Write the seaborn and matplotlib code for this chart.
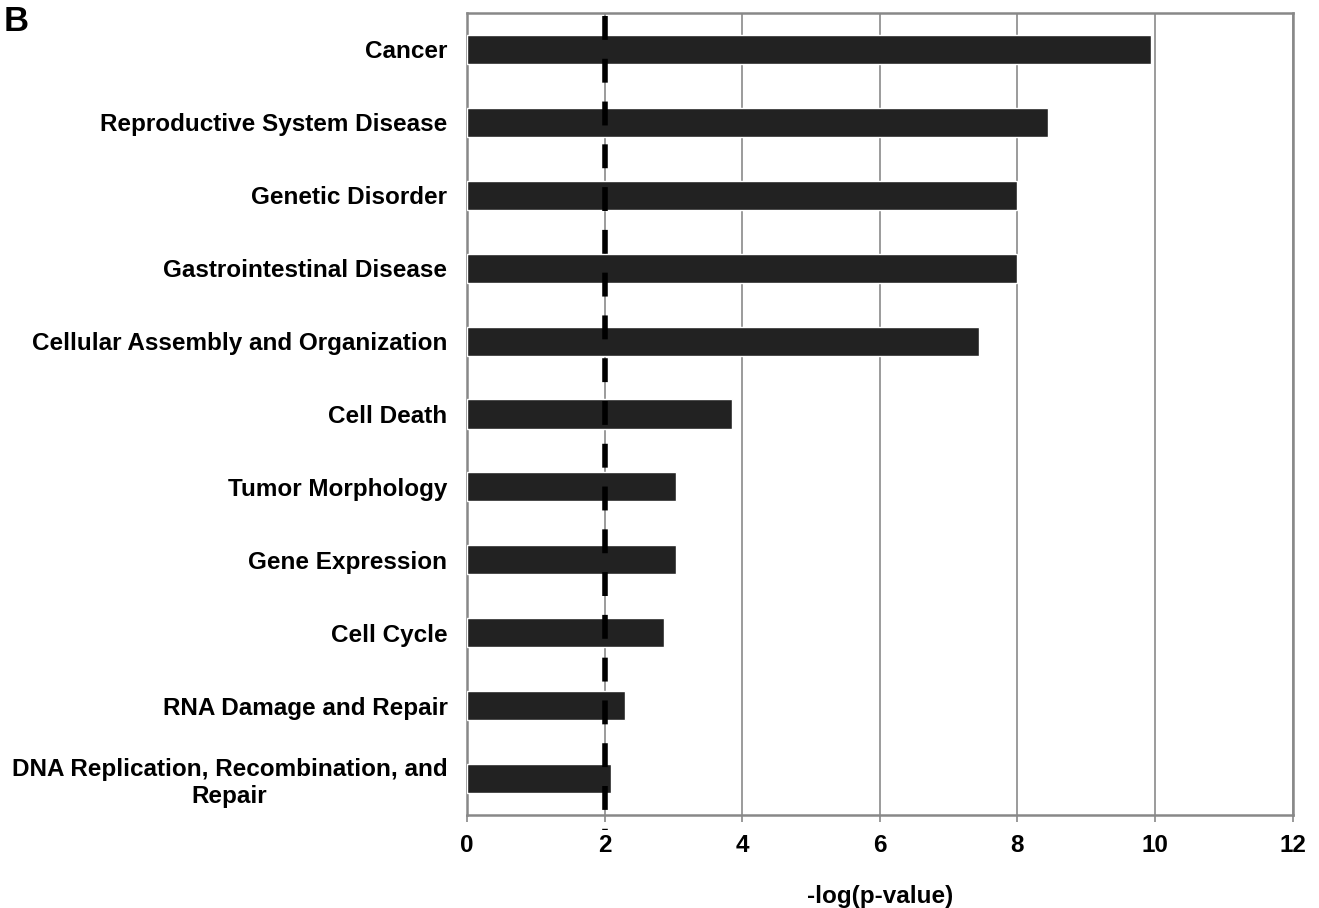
import matplotlib
matplotlib.use("Agg")
import matplotlib.pyplot as plt
import seaborn as sns
import pandas as pd

categories = [
    "Cancer",
    "Reproductive System Disease",
    "Genetic Disorder",
    "Gastrointestinal Disease",
    "Cellular Assembly and Organization",
    "Cell Death",
    "Tumor Morphology",
    "Gene Expression",
    "Cell Cycle",
    "RNA Damage and Repair",
    "DNA Replication, Recombination, and\nRepair",
]
values = [9.94, 8.44, 8.0, 8.0, 7.44, 3.85, 3.04, 3.04, 2.86, 2.30, 2.09]
threshold = 2
xticks = [0, 2, 4, 6, 8, 10, 12]

sns.set_theme(style="white")
plt.rcParams["font.family"] = ["Liberation Sans", "DejaVu Sans"]
plt.rcParams["text.color"] = "black"
plt.rcParams["xtick.color"] = "black"
plt.rcParams["ytick.color"] = "black"
plt.rcParams["axes.labelcolor"] = "black"

df = pd.DataFrame({"category": categories, "value": values})

fig = plt.figure(figsize=(13.19, 9.08), dpi=100)
ax = fig.add_axes([0.354, 0.1024, 0.626, 0.8833])

sns.barplot(data=df, x="value", y="category", orient="h", color="#222222",
            width=0.4, saturation=1, ax=ax, zorder=3)

ax.set_xlim(0, 12)
ax.set_xticks(xticks)
ax.set_xticklabels([str(t) for t in xticks], fontsize=17.5, fontweight="bold")
ax.xaxis.grid(True, color="#808080", linewidth=1.1, zorder=0)
ax.set_axisbelow(True)

for lab in ax.get_yticklabels():
    lab.set_fontsize(17.5)
    lab.set_fontweight("bold")
    lab.set_multialignment("center")
ax.tick_params(axis="y", length=0, pad=14)
ax.tick_params(axis="x", length=5, width=1.2, color="#888888", labelcolor="black",
               pad=9, direction="out", bottom=True)

for s in ax.spines.values():
    s.set_color("#888888")
    s.set_linewidth(1.8)

ax.axvline(threshold, ymin=0.996, ymax=-0.019, color="black", linewidth=4,
           linestyle=(0, (4.3, 3.4)), clip_on=False, zorder=5)

ax.set_ylabel("")
ax.set_xlabel("-log(p-value)", fontsize=17.5, fontweight="bold", labelpad=20)

fig.text(0.003, 0.994, "B", fontsize=25, fontweight="bold", va="top", ha="left")

fig.savefig("out.png", dpi=100)
